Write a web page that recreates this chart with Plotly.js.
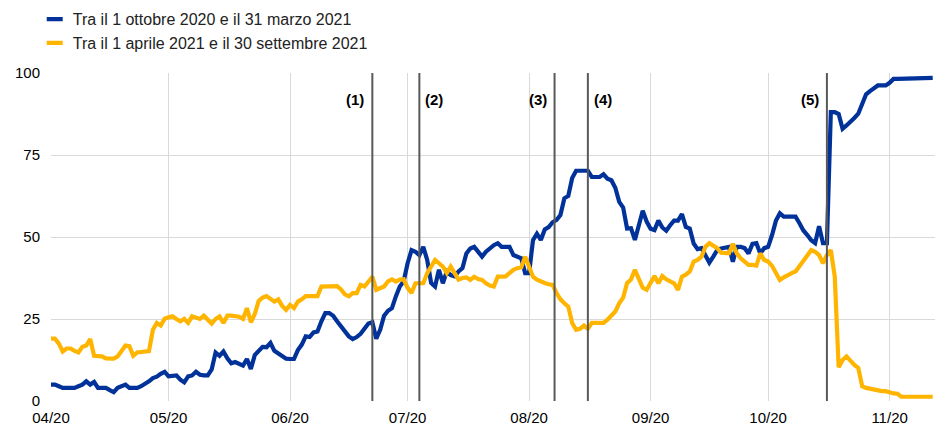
<!DOCTYPE html>
<html><head><meta charset="utf-8">
<script src="https://cdn.plot.ly/plotly-3.0.1.min.js"></script>
<style>html,body{margin:0;padding:0;background:#fff}#chart{width:935px;height:428px}</style>
</head><body><div id="chart"></div>
<script>
// ---- data ----
const startDate = '2020-04-01';   // first daily observation
const seriesNames = ['Tra il 1 ottobre 2020 e il 31 marzo 2021', 'Tra il 1 aprile 2021 e il 30 settembre 2021'];
const blueValues = [
 5,5,4.5,4,4,4,4,4.5,5,6, 5,5.8,4,4,4,3.3,2.7,4,4.5,5,
 4,4,4,4.5,5.2,6,7,7.4,8.3,8.9, 7.5,7.5,7.8,6.5,5.7,7.5,7.8,8.9,8,7.8,
 7.8,9.6,14.8,13.8,15.1,13,11.5,11.9,11.5,10.8, 12.8,9.8,14,15.1,16.5,16.4,17.7,15.3,14.5,13.6,
 12.9,12.8,12.8,15.5,17.2,19.7,19.5,20.9,21.2,24.3, 26.8,26.8,26,24.3,22.7,21,19.7,18.9,19.5,20.5,
 22.2,23.6,24,19,21.7,26,27.5,28.3,31.9,34.9, 36.5,42,46,45.5,44.5,47,43,36,34.9,40,
 35.9,39.5,38.4,38,39.5,40.5,45,46.5,47,45.5, 44,45.5,46.6,47.5,48.1,47,47,47,44.5,44,
 43.5,39,39,49,51,49.1,52.3,53,54.5,55.2, 56.7,61.8,62.5,68,70.2,70.2,70.2,70.2,68.3,68.3,
 68.3,69.1,67.8,67.3,65,60.7,59,52.6,52.7,49.1, 53.6,58,54.7,52.5,52.1,55,52.9,51.9,53.6,55,
 55,57,53.1,52.6,48,46.3,46.6,44.5,42.2,44, 46,46.5,46.9,47,42.5,47,47,46.6,45,47.9,
 48.1,45,46.6,47,50.6,55,57.2,56.2,56.2,56.2, 56.2,54.2,52,50.6,49,48.1,53.3,48.1,48.1,88.1,
 88.1,87.5,83,84,85,86.3,87.6,90.6,93.5,94.5, 95.5,96.2,96.2,96.2,97,98.2,98.2,98.2,98.2,98.2,
 98.2,98.2,98.3,98.3,98.4,98.5
];
const yellowValues = [
 19,19,17.5,15.1,16,16,15.3,14.8,16.5,16.9, 18.9,13.8,13.7,13.6,13,12.9,12.9,13.6,15.1,16.9,
 16.7,13.8,14.8,15,15,15.2,21.7,23.8,23,25.1, 25.5,25.8,25,24.3,25,23.8,25.8,25.3,25,26,
 24.6,23.6,25,25.8,23.8,26,26,26,25.7,25, 28.3,24,26.5,30.5,31.5,32,31,30.3,31,29,
 27.8,29.3,28.3,30.3,31,32,32,32,32,34.9, 35,35,35,35,34,32.5,31.9,32.9,32.9,35.4,
 34.9,36.5,37.9,33.9,34.5,34.9,36.5,37.1,36.4,37, 37.1,34.5,32.9,35.9,35.9,35.9,39,41,43,42,
 41,39,41,39,37,37.5,37.7,36.9,37.9,37.2, 36.9,35.9,35.2,34.9,37.9,37.9,38,39,40,40.5,
 40.8,44,41,37.9,37,36.4,36,35.6,35.4,32.9, 31,29.8,28.8,23.8,21.7,22,23,22,23.8,23.8,
 23.8,23.8,24.8,26,27.3,29.8,31.5,35.9,37,40, 36.9,34.5,33.9,35.9,38.1,35.9,38.1,37.1,36.5,35.9,
 33.9,37.9,38.5,39.5,42.5,43,44,47,48.1,47.5, 46.6,45.2,45,45,47.9,45,43.5,42.5,41.5,41.5,
 41.3,45,43,42.5,41.2,39,36.9,37.7,38.5,39, 39.5,41,42.5,44,46,45.5,44.5,42,44.5,46,
 38,10.3,12.5,13.6,12.1,11,10.1,4.5,4,3.7, 3.7,3.2,3,3,2.5,2.3,2.2,1.3,1.3,1.3,
 1.3,1.3,1.3,1.3,1.3,1.3
];
const eventDates  = ['2020-06-22', '2020-07-04', '2020-08-07 12:00', '2020-08-16', '2020-10-16'];
const eventLabels = ['(1)', '(2)', '(3)', '(4)', '(5)'];
const eventSide   = ['left', 'right', 'left', 'right', 'left'];
const tickDates  = ['2020-04-01','2020-05-01','2020-06-01','2020-07-01','2020-08-01','2020-09-01','2020-10-01','2020-11-01'];
const tickLabels = ['04/20','05/20','06/20','07/20','08/20','09/20','10/20','11/20'];
const yTicks = [0, 25, 50, 75, 100];

// ---- build ----
function dailyDates(start, n) {
  const [y, m, d] = start.split('-').map(Number);
  const out = [];
  for (let i = 0; i < n; i++) {
    const t = new Date(Date.UTC(y, m - 1, d + i));
    out.push(t.toISOString().slice(0, 10));
  }
  return out;
}
const dates = dailyDates(startDate, blueValues.length);

const BLUE = '#003299', YELLOW = '#FFB400', FONT = 'Liberation Sans, Arial, sans-serif';

const traces = [
  {x: dates, y: blueValues, name: seriesNames[0], type: 'scatter', mode: 'lines',
   line: {color: BLUE, width: 4.2}},
  {x: dates, y: yellowValues, name: seriesNames[1], type: 'scatter', mode: 'lines',
   line: {color: YELLOW, width: 4.2}}
];

const shapes = eventDates.map(d => ({
  type: 'line', xref: 'x', yref: 'paper', x0: d, x1: d, y0: 0, y1: 1,
  line: {color: '#595959', width: 2}, layer: 'above'
}));
const annotations = eventDates.map((d, i) => ({
  x: d, y: 92, xref: 'x', yref: 'y', text: '<b>' + eventLabels[i] + '</b>', showarrow: false,
  xanchor: eventSide[i] === 'left' ? 'right' : 'left', xshift: eventSide[i] === 'left' ? -6 : 4,
  font: {family: FONT, size: 15, color: '#000'}
}));

const layout = {
  width: 935, height: 428,
  margin: {l: 50.5, r: 0, t: 72.5, b: 26.5, autoexpand: false},
  paper_bgcolor: '#fff', plot_bgcolor: '#fff',
  font: {family: FONT, size: 15, color: '#000'},
  showlegend: true,
  legend: {xref: 'container', yref: 'container', x: 0.035, y: 0.995, xanchor: 'left', yanchor: 'top',
           font: {family: FONT, size: 16, color: '#222'}, bgcolor: 'rgba(0,0,0,0)',
           tracegroupgap: 0, itemwidth: 30},
  xaxis: {type: 'date', range: ['2020-04-01', '2020-11-12 14:00'],
          tickmode: 'array', tickvals: tickDates, ticktext: tickLabels,
          showgrid: true, gridcolor: '#d9d9d9', gridwidth: 1, zeroline: false, showline: false,
          ticks: '', ticklabelstandoff: 6, tickfont: {family: FONT, size: 15, color: '#000'}},
  yaxis: {range: [0, 100], tickmode: 'array', tickvals: yTicks,
          showgrid: true, gridcolor: '#d9d9d9', gridwidth: 1, zeroline: false, showline: false,
          ticks: '', ticklabelstandoff: 10, tickfont: {family: FONT, size: 15, color: '#000'}},
  shapes: shapes, annotations: annotations
};

Plotly.newPlot('chart', traces, layout, {displayModeBar: false, staticPlot: true}).then(() => {
  document.querySelectorAll('.legend .legendlines path').forEach(p => p.setAttribute('d', 'M14,0h16'));
});
</script></body></html>
